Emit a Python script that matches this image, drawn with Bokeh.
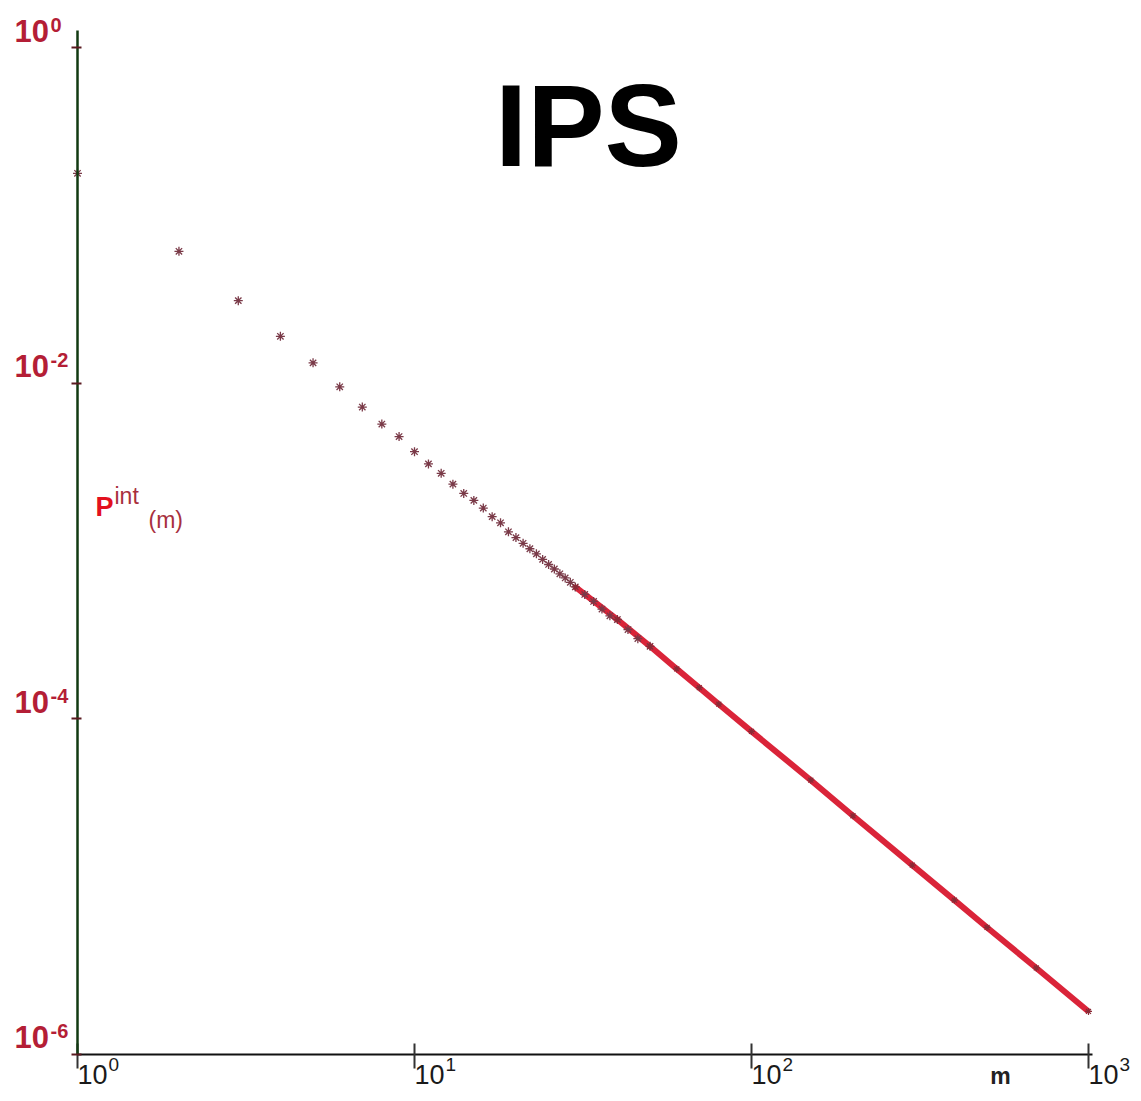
from bokeh.plotting import figure
from bokeh.models import Range1d, FixedTicker, Label
from bokeh.embed import file_html
from bokeh.resources import INLINE

# ---- data ----
m_stars = [1, 2, 3, 4, 5, 6, 7, 8, 9, 10, 11, 12, 13, 14, 15, 16, 17, 18, 19, 20,
           21, 22, 23, 24, 25, 26, 27, 28, 29, 30, 32, 34, 36, 38, 40, 43, 46, 50]
p_stars = [0.178, 0.061, 0.031, 0.019, 0.0132, 0.0095, 0.0072, 0.0057, 0.0048, 0.0039,
           0.0033, 0.0029, 0.0025, 0.0022, 0.0020, 0.0018, 0.0016, 0.00147, 0.0013, 0.00120,
           0.00111, 0.00103, 0.00096, 0.00089, 0.00083, 0.00078, 0.00073, 0.00069, 0.00065, 0.00061,
           0.00055, 0.00050, 0.00045, 0.00041, 0.00039, 0.00034, 0.00030, 0.00027]
m_line = [30, 40, 50, 60, 70, 80, 100, 150, 200, 300, 400, 500, 700, 1000]
p_line = [6.1e-4, 3.9e-4, 2.7e-4, 1.98e-4, 1.53e-4, 1.22e-4, 8.4e-5, 4.3e-5, 2.64e-5,
          1.34e-5, 8.3e-6, 5.7e-6, 3.27e-6, 1.8e-6]
x_ticks = [1, 10, 100, 1000]
x_tick_exps = ["0", "1", "2", "3"]
y_ticks = [1, 1e-2, 1e-4, 1e-6]
y_tick_exps = ["0", "-2", "-4", "-6"]
title_text = "IPS"
x_label = "m"

FONT = "Liberation Sans"
BASE = 0.39  # compensation (em) for where alphabetic-baseline labels land


def lift(fs, px):
    """y_offset placing an alphabetic baseline px pixels above the anchor."""
    return px + round(BASE * fs)


# frame covers the whole canvas; axes are placed inside it with fixed_location
W, H = 1141, 1101
X0, DX = 77.0, 337.0     # px of 10^0, px per decade (x)
Y0, DY = 47.0, 167.8     # px of 10^0, px per decade (y)
x_range = Range1d(10 ** (-X0 / DX), 10 ** ((W - X0) / DX))
y_range = Range1d(10 ** (-(H - Y0) / DY), 10 ** (Y0 / DY))

p = figure(x_axis_type="log", y_axis_type="log", x_range=x_range, y_range=y_range,
           width=W, height=H, min_border=0,
           min_border_left=0, min_border_right=0, min_border_top=0, min_border_bottom=0,
           output_backend="svg", toolbar_location=None,
           background_fill_color="white", border_fill_color="white",
           outline_line_color=None)
p.grid.visible = False

# axes
p.xaxis.ticker = FixedTicker(ticks=x_ticks)
p.yaxis.ticker = FixedTicker(ticks=y_ticks)
p.xaxis.fixed_location = y_ticks[-1]
p.yaxis.fixed_location = x_ticks[0]
p.xaxis.bounds = (x_ticks[0], x_ticks[-1] * 10 ** 0.012)
p.yaxis.bounds = (y_ticks[-1], y_ticks[0] * 10 ** 0.1)
for ax in (p.xaxis, p.yaxis):
    ax.major_label_text_color = None
    ax.major_label_text_font_size = "1px"
    ax.minor_tick_line_color = None
p.xaxis.axis_line_color = "#111111"
p.xaxis.axis_line_width = 2
p.xaxis.major_tick_line_color = "#333333"
p.xaxis.major_tick_line_width = 2
p.xaxis.major_tick_in = 11
p.xaxis.major_tick_out = 14
p.yaxis.axis_line_color = "#123a12"
p.yaxis.axis_line_width = 2.5
p.yaxis.major_tick_line_color = "#5a1a20"
p.yaxis.major_tick_line_width = 2
p.yaxis.major_tick_in = 4
p.yaxis.major_tick_out = 6

# data
p.line(m_line, p_line, line_color="#d8182e", line_width=6, line_alpha=0.95)
p.scatter(m_stars, p_stars, marker="asterisk", size=9, line_color="#7a3a48", line_width=1.3)
p.scatter(m_line, p_line, marker="asterisk", size=7, line_color="#8a2a36", line_width=1.2)

# y tick labels
y_fs, y_sfs = 31, 20
for v, e in zip(y_ticks, y_tick_exps):
    p.add_layout(Label(x=x_ticks[0], y=v, text="10", text_font=FONT, text_font_size=f"{y_fs}px",
                       text_font_style="bold", text_color="#b41e36", text_align="left",
                       text_baseline="alphabetic", x_offset=-63, y_offset=lift(y_fs, 5)))
    p.add_layout(Label(x=x_ticks[0], y=v, text=e, text_font=FONT, text_font_size=f"{y_sfs}px",
                       text_font_style="bold", text_color="#b41e36", text_align="left",
                       text_baseline="alphabetic", x_offset=-27, y_offset=lift(y_sfs, 15)))

# x tick labels
for v, e in zip(x_ticks, x_tick_exps):
    p.add_layout(Label(x=v, y=y_ticks[-1], text="10", text_font=FONT, text_font_size="27px",
                       text_color="#1a1a1a", text_align="left", text_baseline="top",
                       x_offset=0, y_offset=-11))
    p.add_layout(Label(x=v, y=y_ticks[-1], text=e, text_font=FONT, text_font_size="19px",
                       text_color="#1a1a1a", text_align="left", text_baseline="top",
                       x_offset=31, y_offset=-4))

# axis name near x axis
p.add_layout(Label(x=10 ** 2.739, y=y_ticks[-1], text=x_label, text_font=FONT,
                   text_font_size="23px", text_font_style="bold", text_color="#222222",
                   text_align="center", text_baseline="alphabetic", y_offset=lift(23, -31)))

# y quantity label P^int_(m)
ya, yb = 1, 10 ** -2.804
p.add_layout(Label(x=ya, y=yb, text="P", text_font=FONT, text_font_size="27px",
                   text_font_style="bold", text_color="#e3101e", text_align="left",
                   text_baseline="alphabetic", x_offset=18, y_offset=lift(27, 0)))
p.add_layout(Label(x=ya, y=yb, text="int", text_font=FONT, text_font_size="23px",
                   text_color="#a8303e", text_align="left",
                   text_baseline="alphabetic", x_offset=37, y_offset=lift(23, 13)))
p.add_layout(Label(x=ya, y=yb, text="(m)", text_font=FONT, text_font_size="23px",
                   text_color="#a8303e", text_align="left",
                   text_baseline="alphabetic", x_offset=71, y_offset=lift(23, -11)))

# title
p.add_layout(Label(x=10 ** 1.516, y=10 ** -0.735, text=title_text, text_font=FONT,
                   text_font_size="116px", text_font_style="bold", text_color="#000000",
                   text_align="center", text_baseline="alphabetic", y_offset=lift(116, 0)))

open("out.html", "w").write(file_html(p, INLINE))
